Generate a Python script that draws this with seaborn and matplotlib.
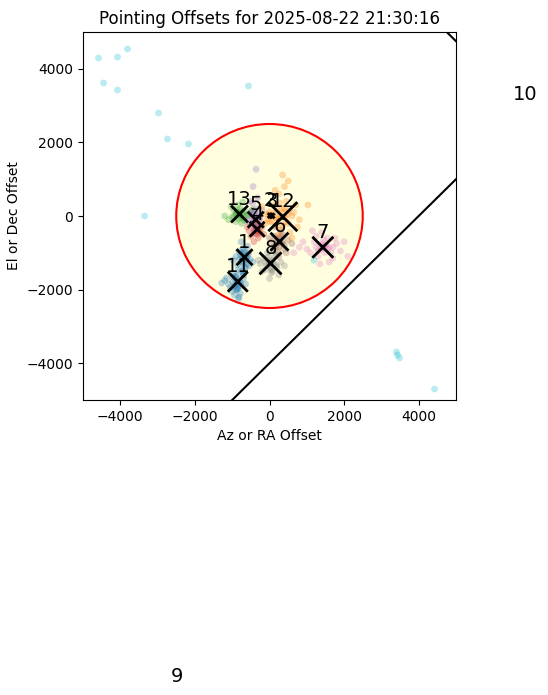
import numpy as np
import pandas as pd
import matplotlib
matplotlib.use("Agg")
import matplotlib.pyplot as plt
import matplotlib.patches as mpatches
import seaborn as sns

title = "Pointing Offsets for 2025-08-22 21:30:16"

# pontos de cada grupo (offsets em az/el)
pts = {
    1: ([-680, -560, -760, -820, -600, -700, -900, -520, -640, -780, -450, -720, -860, -590, -680, -980, -540, -760, -630, -700,
         -650, -700, -620, -740, -580, -690, -810, -670, -720, -600, -660, -750],
        [-1120, -1000, -1250, -950, -1300, -880, -1100, -1180, -1400, -1050, -1250, -1500, -1330, -820, -1000, -1200, -1350, -700, -1150, -1600,
         -1080, -1150, -1200, -1100, -1050, -1250, -1180, -950, -1300, -1120, -1400, -1000]),
    2: ([30, -50, 100, 0, 150, -120, 60, -20],
        [10, -80, 60, 120, -50, -200, -150, 40]),
    3: ([-500, -560, -450],
        [100, 20, 180]),
    4: ([-340, -450, -250, -550, -300, -400, -200, -500, -350, -150, -600, -420, -280, -380,
         -330, -360, -300, -400, -280, -350, -320, -420],
        [-350, -250, -450, -400, -600, -150, -300, -550, -200, -500, -300, -700, -100, -480,
         -350, -400, -300, -350, -420, -250, -500, -450]),
    5: ([-400, -300, -500, -350, -550, -250, -450, -380, -600, -320, -480, -360, -420, -200, -520, -440,
         -380, -420, -350, -450, -400, -330, -480, -300],
        [-100, 50, -200, 200, 0, -50, 350, -300, -150, 500, 150, 1270, -400, 150, 400, 800,
         -50, -120, 0, -80, 100, -200, 50, -20]),
    6: ([268, 150, 400, 50, 350, 200, 500, 100, 300, 450, 0, 250, 600, 150,
         280, 220, 320, 180, 260, 350, 240, 300, 200, 380],
        [-698, -550, -800, -700, -500, -950, -650, -850, -400, -1000, -600, -1100, -750, -300,
         -700, -650, -750, -800, -600, -700, -850, -550, -700, -900]),
    7: ([1430, 1200, 1650, 1000, 1800, 1300, 1550, 900, 1700, 1400, 1100, 1900, 1250, 1600, 800, 1500, 2100, 1350, 1750, 1150, 650, 2000,
         1450, 1380, 1500, 1420, 1300, 1550, 1480, 1350, 1600, 1250, 1450, 1700],
        [-851, -700, -1000, -900, -750, -1100, -600, -700, -1150, -450, -1000, -950, -550, -1250, -850, -800, -1100, -1300, -600, -400, -1000, -700,
         -850, -900, -800, -750, -950, -900, -1000, -800, -850, -850, -650, -850]),
    8: ([27, -150, 200, -100, 150, -250, 300, 50, -50, 250, -200, 100, 400, 0, -300, 200,
         0, 50, -80, 100, 30, -30, 120, -120, 60, 180, -20, 80],
        [-1286, -1150, -1400, -1450, -1100, -1300, -1250, -1550, -1000, -1600, -1500, -950, -1350, -1700, -1200, -1050,
         -1300, -1250, -1350, -1200, -1400, -1200, -1300, -1250, -1450, -1350, -1100, -1500]),
    9: ([-2500, -2300, -2700],
        [-12900, -12700, -13100]),
    10: ([-4584, -4075, -3807, -4450, -4075, -2976, -2735, -2172, -563, -3351, 3405, 3432, 3485, 4424, 1190],
         [4293, 4321, 4538, 3614, 3424, 2799, 2092, 1957, 3533, 0, -3696, -3777, -3859, -4701, -1200]),
    11: ([-850, -980, -760, -1100, -900, -700, -1200, -820, -950, -640, -1050, -880, -780, -1150, -920, -700, -1000, -830, -1280, -860, -760, -940,
          -860, -900, -820, -880, -940, -800, -870, -910, -780, -850, -990, -830],
         [-1780, -1650, -1900, -1850, -2000, -1700, -1750, -2200, -1550, -1850, -1950, -1620, -2100, -1680, -1880, -1600, -2050, -1450, -1820, -1980, -1500, -2150,
          -1800, -1750, -1850, -1700, -1900, -1780, -2000, -1650, -1820, -1950, -1780, -2250]),
    12: ([357, 200, 500, 100, 650, 300, 450, -100, 800, 250, 550, 150, 400, 700, 0, 350, 600, 1030, 400, 250, -200, 500, 750, 150,
          300, 420, 380, 250, 480, 330, 200, 450, 520, 280, 600, 350],
         [-19, 150, -200, 300, 100, -350, 400, 50, -100, 600, -450, -250, 800, 300, -150, 1115, -600, 300, 200, -500, 250, 950, -300, 700,
          0, -50, 100, -100, 50, 200, -30, -150, 150, 350, 0, -250]),
    13: ([-800, -950, -700, -1100, -650, -850, -1000, -750, -600, -900, -1200, -780, -680, -880, -1020, -720,
          -820, -780, -850, -760, -900, -700, -830, -870, -740, -950],
         [50, 150, -50, -100, 120, 300, -20, -200, 30, -150, 0, 200, -120, 80, 250, 380,
          60, 0, 100, -50, 50, 80, -80, 150, 120, -30]),
}

# centros ajustados de cada grupo
cluster_ids = [1, 2, 3, 4, 5, 6, 7, 8, 9, 10, 11, 12, 13]
center_x = [-670, 20, 70, -330, -370, 268, 1430, 27, -2493, 6850, -850, 357, -804]
center_y = [-1120, 10, 5, -360, -100, -698, -851, -1286, -12900, 2900, -1785, -19, 54]
center_px = [16, 5, 5, 15, 16, 18, 21, 22, 20, 20, 20, 29, 17]  # tamanho do X

radius = 2500
line1_x = [-2000, 6000]
line1_y = [-6000, 2000]
line2_x = [4000, 6000]
line2_y = [5750, 3750]

rows = []
for c, (xs, ys) in pts.items():
    for x, y in zip(xs, ys):
        rows.append({"x": x, "y": y, "cluster": c})
df = pd.DataFrame(rows)

tab = sns.color_palette("tab10")
pal = {c: tab[(c - 1) % 10] for c in cluster_ids}

fig = plt.figure(figsize=(5.48, 6.95), dpi=100)
ax = fig.add_axes([83 / 548, 1 - 400 / 695, 373 / 548, 368 / 695])

circ = mpatches.Circle((0, 0), radius, facecolor="lightyellow", edgecolor="red", lw=1.5, zorder=0)
ax.add_patch(circ)

sns.scatterplot(data=df, x="x", y="y", hue="cluster", palette=pal, alpha=0.3,
                s=24, linewidth=0, legend=False, ax=ax, zorder=1)

ax.plot(line1_x, line1_y, color="black", lw=1.5)
ax.plot(line2_x, line2_y, color="black", lw=1.5)

sizes = [(p * 0.72) ** 2 for p in center_px]
ax.scatter(center_x, center_y, marker="x", s=sizes, c="black", linewidths=2, zorder=3)

for c, cx, cy in zip(cluster_ids, center_x, center_y):
    ax.text(cx, cy + 250, str(c), fontsize=14, ha="center", va="baseline", zorder=4)

ax.set_xlim(-5000, 5000)
ax.set_ylim(-5000, 5000)
ax.set_xticks([-4000, -2000, 0, 2000, 4000])
ax.set_yticks([-4000, -2000, 0, 2000, 4000])
ax.set_xlabel("Az or RA Offset")
ax.set_ylabel("El or Dec Offset")
ax.set_title(title)

fig.savefig("out.png", dpi=100)
